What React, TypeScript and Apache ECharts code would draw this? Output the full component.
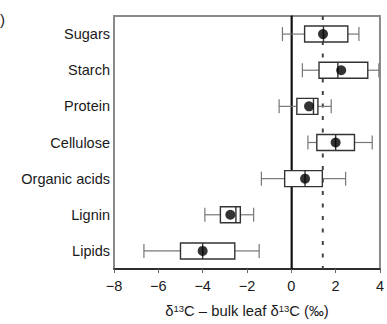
import React, { useEffect, useRef } from "react";
import * as echarts from "echarts";

const categories = ["Sugars", "Starch", "Protein", "Cellulose", "Organic acids", "Lignin", "Lipids"];
const whiskerLow = [-0.4, 0.5, -0.55, 0.75, -1.35, -3.9, -6.65];
const q1 = [0.6, 1.25, 0.25, 1.15, -0.3, -3.2, -5.0];
const median = [1.45, 2.1, 1.0, 2.0, 0.62, -2.5, -4.0];
const q3 = [2.55, 3.45, 1.2, 2.85, 1.4, -2.3, -2.55];
const whiskerHigh = [3.05, 3.95, 1.8, 3.65, 2.45, -1.7, -1.45];
const means = [1.43, 2.25, 0.8, 2.0, 0.62, -2.75, -4.0];
const refLines = [0, 1.42];
const xTicks = { min: -8, max: 4, interval: 2 };

const FONT = "'Liberation Sans', Arial, sans-serif";

export default function App() {
  const ref = useRef<HTMLDivElement>(null);
  useEffect(() => {
    if (!ref.current) return;
    const chart = echarts.init(ref.current, null, { renderer: "svg" });
    const boxData = categories.map((_, i) => [i, whiskerLow[i], q1[i], median[i], q3[i], whiskerHigh[i]]);
    const meanData = categories.map((_, i) => [means[i], i]);
    const lineData = refLines.map((v, i) => [v, i]);

    chart.setOption({
      animation: false,
      textStyle: { fontFamily: FONT },
      graphic: [
        { type: "text", left: 0, top: 12, style: { text: ")", fontSize: 15, fill: "#222", fontFamily: FONT } },
      ],
      grid: {
        left: 114,
        right: 7,
        top: 16,
        bottom: 43,
        show: true,
        borderColor: "#8a8a8a",
        borderWidth: 2,
      },
      xAxis: {
        type: "value",
        min: xTicks.min,
        max: xTicks.max,
        interval: xTicks.interval,
        splitLine: { show: false },
        axisLine: { show: true, onZero: false, lineStyle: { color: "#111", width: 1.5 } },
        axisTick: { show: true, length: 4, lineStyle: { color: "#666" } },
        axisLabel: {
          margin: 9,
          fontSize: 14.5,
          color: "#1a1a1a",
          fontFamily: FONT,
          formatter: (v: number) => String(v).replace("-", "\u2212"),
        },
        name: "{n|\u03b4}{sup|13}{n|C \u2013 bulk leaf \u03b4}{sup|13}{n|C (\u2030)}",
        nameLocation: "middle",
        nameGap: 34,
        nameTextStyle: {
          rich: {
            n: { fontSize: 14.8, color: "#1a1a1a", fontFamily: FONT, lineHeight: 16 },
            sup: { fontSize: 9.5, color: "#1a1a1a", fontFamily: FONT, verticalAlign: "top", lineHeight: 16, padding: [0, 0, 6, 0] },
          },
        },
      },
      yAxis: {
        type: "category",
        data: categories,
        inverse: true,
        axisLine: { show: true, lineStyle: { color: "#111", width: 1.5 } },
        axisTick: { show: false },
        axisLabel: { margin: 4, fontSize: 14.5, color: "#1a1a1a", fontFamily: FONT },
        splitLine: { show: false },
      },
      series: [
        {
          type: "custom",
          z: 1,
          data: lineData,
          encode: { x: 0, y: 1 },
          renderItem: (params: any, api: any) => {
            const v = api.value(0);
            const idx = params.dataIndex;
            const x = api.coord([v, 0])[0];
            const cs = params.coordSys;
            return {
              type: "line",
              shape: { x1: x, y1: cs.y, x2: x, y2: cs.y + cs.height },
              style: idx === 0
                ? { stroke: "#111", lineWidth: 1.5 }
                : { stroke: "#444", lineWidth: 2, lineDash: [4, 8.5] },
            };
          },
        },
        {
          type: "custom",
          z: 3,
          data: boxData,
          encode: { y: 0, x: [1, 2, 3, 4, 5] },
          renderItem: (params: any, api: any) => {
            const c = api.value(0);
            const pLow = api.coord([api.value(1), c]);
            const pQ1 = api.coord([api.value(2), c]);
            const pMed = api.coord([api.value(3), c]);
            const pQ3 = api.coord([api.value(4), c]);
            const pHigh = api.coord([api.value(5), c]);
            const y = pLow[1];
            const bh = 8;
            const ch = 7;
            const wStyle = { stroke: "#777", lineWidth: 1.2 };
            const bStyle = { stroke: "#333", lineWidth: 1.4 };
            return {
              type: "group",
              children: [
                { type: "line", shape: { x1: pLow[0], y1: y, x2: pQ1[0], y2: y }, style: wStyle },
                { type: "line", shape: { x1: pQ3[0], y1: y, x2: pHigh[0], y2: y }, style: wStyle },
                { type: "line", shape: { x1: pLow[0], y1: y - ch, x2: pLow[0], y2: y + ch }, style: wStyle },
                { type: "line", shape: { x1: pHigh[0], y1: y - ch, x2: pHigh[0], y2: y + ch }, style: wStyle },
                {
                  type: "rect",
                  shape: { x: pQ1[0], y: y - bh, width: pQ3[0] - pQ1[0], height: bh * 2 },
                  style: { fill: "#fff", stroke: "#333", lineWidth: 1.4 },
                },
                { type: "line", shape: { x1: pMed[0], y1: y - bh, x2: pMed[0], y2: y + bh }, style: bStyle },
              ],
            };
          },
        },
        {
          type: "scatter",
          z: 5,
          data: meanData,
          symbol: "circle",
          symbolSize: 10,
          itemStyle: { color: "#000" },
        },
      ],
    });
    return () => chart.dispose();
  }, []);
  return <div ref={ref} style={{ width: 387, height: 324, position: "absolute", left: 0, top: 0 }} />;
}
